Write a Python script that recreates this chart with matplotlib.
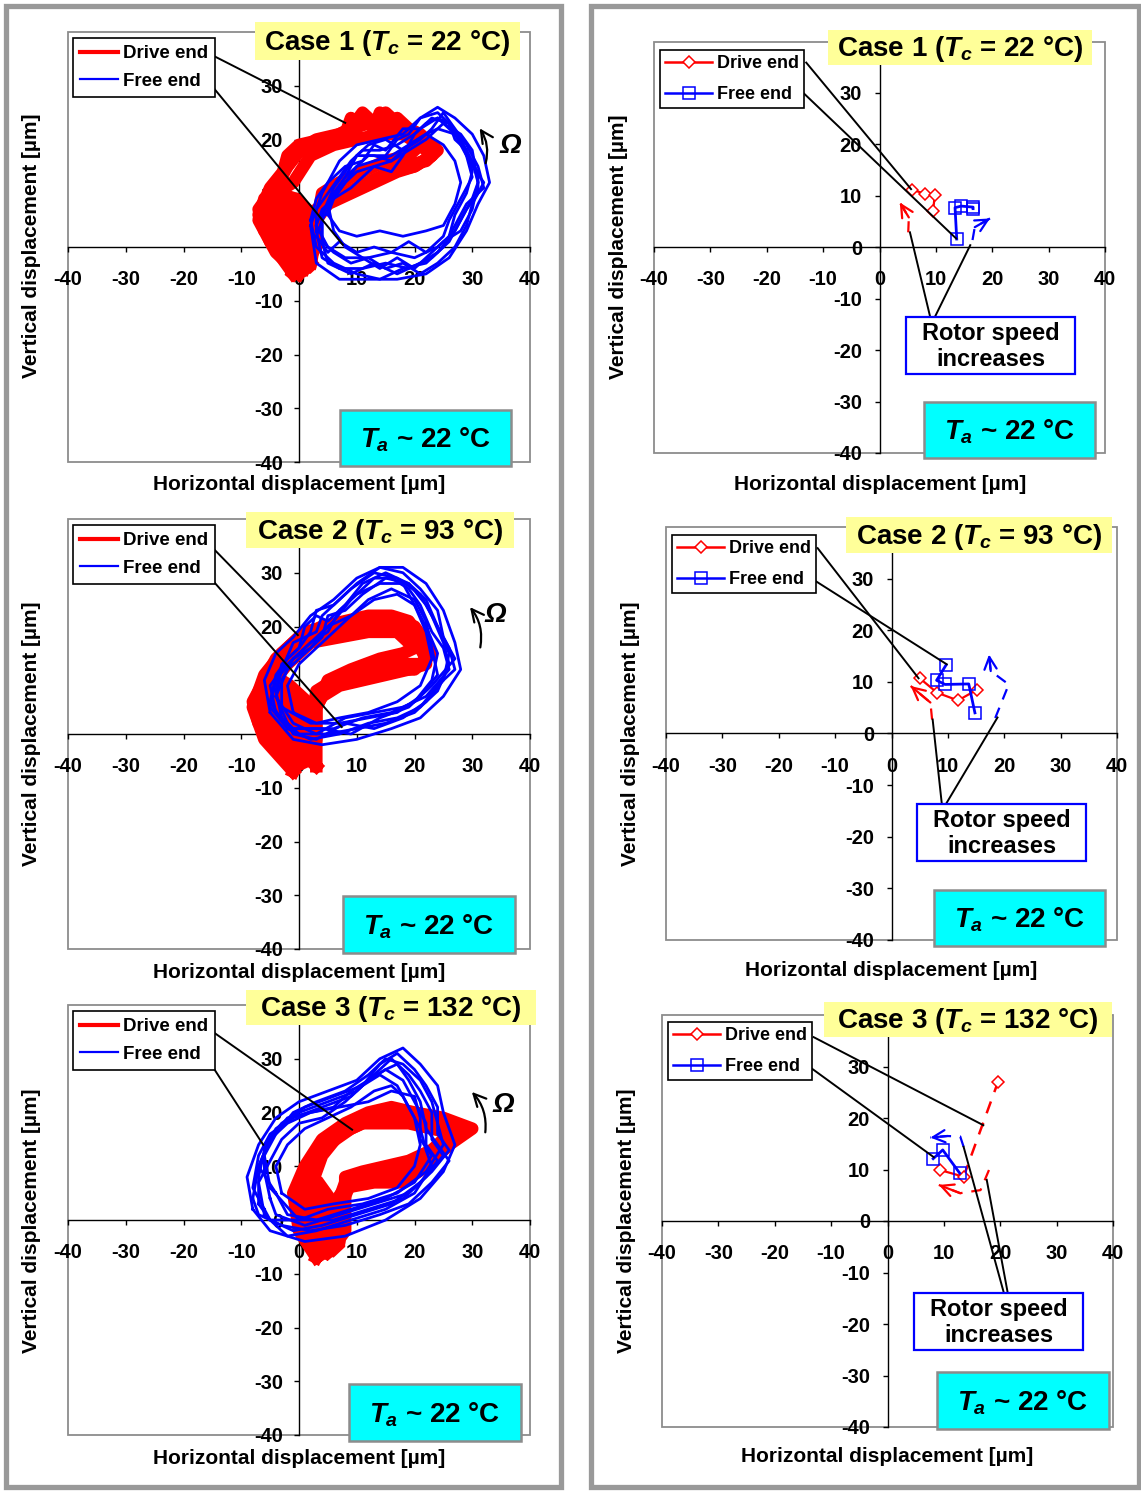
import matplotlib
matplotlib.use('Agg')
import matplotlib.pyplot as plt
from matplotlib.patches import Rectangle, FancyArrowPatch
from matplotlib.lines import Line2D

W, H = 1141, 1491
plt.rcParams['font.family'] = ['Liberation Sans', 'DejaVu Sans']
plt.rcParams['font.weight'] = 'bold'
plt.rcParams['mathtext.fontset'] = 'custom'
plt.rcParams['mathtext.it'] = 'Liberation Sans:italic:bold'
plt.rcParams['mathtext.rm'] = 'Liberation Sans:bold'
plt.rcParams['mathtext.bf'] = 'Liberation Sans:bold'

ticks = [-40, -30, -20, -10, 0, 10, 20, 30, 40]
tick_labels = ['-40', '-30', '-20', '-10', '0', '10', '20', '30', '40']
case_titles = ['Case 1 ($T_c$ = 22 °C)', 'Case 2 ($T_c$ = 93 °C)', 'Case 3 ($T_c$ = 132 °C)']
ta_label = '$T_a$ ~ 22 °C'
legend_labels = ['Drive end', 'Free end']
xlabel = 'Horizontal displacement [µm]'
ylabel = 'Vertical displacement [µm]'

# ---- Left column: orbits (drive end = red, free end = blue) ----
# Case 1
c1_red_blob_x = [-7, -6, -3, 0, 3, 4, 3, 2, 0, -3, -6]
c1_red_blob_y = [4, 9, 11, 10, 7, 2, -4, -5, -5, -1, 1]
c1_red_a_x = [1, -3, -6, -7, -5, -3, -2, 0, 4, 8, 9, 10, 11, 13, 14, 16, 17, 19, 21, 24, 22, 18, 14, 10, 6, 3, 2, 2, 1]
c1_red_a_y = [-4, 0, 3, 7, 10, 13, 17, 19, 20, 21, 24, 22, 24, 22, 25, 22, 24, 22, 21, 18, 16, 15, 13, 11, 9, 7, 3, -2, -4]
c1_red_b_x = [0, -4, -7, -6, -4, -2, 0, 3, 7, 9, 11, 13, 15, 17, 19, 22, 23, 20, 16, 12, 8, 5, 3, 3, 0]
c1_red_b_y = [-5, -1, 5, 9, 11, 15, 18, 20, 21, 22, 25, 23, 25, 23, 21, 19, 17, 15, 14, 12, 10, 9, 5, 0, -5]
c1_red_c_x = [2, -2, -5, -4, -1, 2, 6, 10, 14, 18, 21, 19, 15, 11, 7, 4, 3, 2]
c1_red_c_y = [-3, 1, 6, 10, 12, 17, 19, 20, 21, 21, 19, 17, 16, 14, 12, 10, 4, -3]
c1_red_d_x = [-1, -5, -7, -5, -2, 1, 5, 9, 12, 15, 18, 20, 23, 20, 17, 13, 9, 5, 3, 2, -1]
c1_red_d_y = [-5, 1, 6, 11, 15, 19, 20, 22, 23, 23, 22, 20, 17, 15, 14, 12, 10, 8, 5, -1, -5]
c1_blue_a_x = [3, 4, 7, 11, 15, 19, 23, 26, 28, 30, 31, 30, 28, 26, 24, 22, 20, 17, 14, 11, 9, 7, 5, 3, 3]
c1_blue_a_y = [3, -2, -4, -4, -3, -4, -2, 1, 5, 9, 12, 16, 20, 23, 24, 23, 21, 19, 18, 18, 16, 13, 10, 7, 3]
c1_blue_b_x = [4, 5, 9, 13, 17, 21, 24, 27, 29, 31, 32, 31, 29, 27, 25, 23, 21, 18, 15, 12, 10, 8, 6, 4, 4]
c1_blue_b_y = [1, -3, -5, -3, -5, -3, -1, 3, 7, 10, 11, 15, 19, 22, 25, 22, 20, 18, 20, 19, 17, 14, 11, 6, 1]
c1_blue_c_x = [3, 5, 8, 12, 16, 20, 24, 26, 27, 29, 30, 29, 27, 24, 22, 19, 16, 13, 10, 8, 6, 4, 3]
c1_blue_c_y = [4, 0, -2, -2, -1, -2, 0, 2, 6, 10, 14, 18, 21, 22, 21, 19, 17, 16, 15, 12, 9, 7, 4]
c1_blue_d_x = [2, 3, 6, 10, 14, 18, 22, 25, 27, 29, 31, 31, 29, 27, 24, 21, 18, 15, 13, 11, 8, 5, 3, 2]
c1_blue_d_y = [5, 0, -3, -5, -6, -4, -3, 0, 4, 8, 10, 14, 17, 21, 24, 22, 22, 18, 19, 16, 15, 12, 9, 5]
c1_blue_e_x = [4, 4, 6, 9, 12, 15, 18, 21, 24, 27, 29, 30, 32, 30, 29, 27, 26, 24, 21, 19, 17, 15, 12, 10, 8, 6, 4]
c1_blue_e_y = [6, 1, -1, -3, -2, -4, -3, -5, -3, 0, 4, 8, 12, 15, 18, 20, 23, 25, 24, 21, 20, 17, 17, 15, 13, 10, 6]
c1_blue_f_x = [3, 5, 7, 10, 13, 16, 19, 22, 25, 26, 28, 30, 29, 28, 26, 23, 20, 18, 16, 13, 11, 9, 6, 4, 3]
c1_blue_f_y = [2, -1, 1, -1, 0, -1, 1, -1, 2, 5, 9, 13, 17, 20, 23, 24, 21, 17, 14, 15, 13, 11, 9, 5, 2]
c1_blue_g_x = [5, 6, 8, 11, 14, 17, 20, 23, 25, 28, 30, 31, 30, 28, 25, 22, 19, 16, 13, 10, 8, 5]
c1_blue_g_y = [8, 3, 0, -2, -4, -2, -4, -1, 1, 3, 7, 12, 18, 21, 23, 20, 18, 16, 17, 17, 13, 8]
c1_blue_h_x = [5, 7, 10, 14, 18, 22, 25, 27, 28, 27, 25, 22, 19, 16, 13, 10, 8, 6, 5]
c1_blue_h_y = [6, 3, 2, 3, 2, 3, 4, 8, 12, 16, 19, 21, 19, 16, 15, 14, 12, 9, 6]
c1_blue_i_x = [2, 3, 7, 12, 17, 22, 26, 29, 31, 33, 32, 30, 27, 24, 21, 18, 14, 10, 7, 4, 2]
c1_blue_i_y = [4, -3, -6, -6, -6, -5, -2, 3, 8, 12, 17, 21, 24, 26, 24, 21, 20, 19, 16, 10, 4]

# Case 2
c2_red_blob_x = [-8, -7, -4, -1, 2, 3, 2, 0, -3, -6]
c2_red_blob_y = [5, 9, 12, 10, 7, 1, -6, -7, -3, 1]
c2_red_a_x = [0, -4, -7, -8, -6, -4, -2, 1, 5, 9, 13, 17, 20, 22, 22, 19, 15, 11, 7, 4, 2, 2, 0]
c2_red_a_y = [-5, -2, 2, 6, 10, 14, 16, 19, 20, 20, 21, 21, 20, 17, 13, 12, 11, 10, 9, 7, 3, -2, -5]
c2_red_b_x = [1, -3, -6, -7, -5, -3, 0, 4, 8, 12, 16, 19, 21, 23, 21, 17, 13, 9, 5, 3, 3, 1]
c2_red_b_y = [-4, -3, 1, 7, 12, 15, 18, 20, 21, 22, 22, 21, 18, 15, 13, 13, 12, 11, 9, 5, -1, -4]
c2_red_c_x = [3, -1, -4, -5, -2, 2, 7, 12, 17, 20, 18, 14, 9, 5, 3, 3]
c2_red_c_y = [-6, -2, 3, 9, 13, 17, 18, 19, 19, 16, 15, 14, 12, 10, 5, -6]
c2_red_d_x = [-1, -6, -8, -6, -3, 1, 6, 11, 16, 20, 22, 20, 16, 11, 6, 3, 2, -1]
c2_red_d_y = [-7, -1, 5, 11, 15, 18, 19, 20, 20, 18, 14, 12, 12, 11, 10, 8, 0, -7]
c2_blue_a_x = [-3, -4, -3, 0, 2, 3, 6, 9, 13, 17, 21, 23, 25, 26, 24, 20, 15, 10, 5, 0, -3]
c2_blue_a_y = [3, 8, 13, 16, 19, 23, 24, 27, 30, 29, 26, 22, 17, 13, 8, 4, 2, 1, 0, 0, 3]
c2_blue_b_x = [-2, -4, -2, 1, 4, 5, 8, 11, 15, 19, 22, 24, 26, 25, 22, 18, 13, 8, 3, -1, -2]
c2_blue_b_y = [2, 7, 12, 15, 18, 22, 23, 26, 29, 28, 25, 20, 15, 10, 6, 3, 1, 2, -1, 0, 2]
c2_blue_c_x = [-4, -5, -3, -1, 3, 4, 7, 10, 14, 18, 21, 24, 25, 27, 23, 19, 14, 9, 4, -1, -4]
c2_blue_c_y = [4, 9, 12, 17, 19, 22, 25, 28, 31, 30, 27, 23, 18, 14, 9, 5, 3, 0, 1, 1, 4]
c2_blue_d_x = [-3, -3, -1, 2, 5, 9, 12, 16, 20, 22, 23, 24, 21, 17, 12, 7, 2, -3]
c2_blue_d_y = [5, 10, 14, 16, 20, 22, 25, 27, 25, 21, 16, 11, 7, 4, 3, 2, 2, 5]
c2_blue_e_x = [-5, -4, -2, 0, 1, 3, 5, 8, 11, 15, 19, 22, 24, 26, 27, 24, 21, 17, 12, 7, 2, -2, -5]
c2_blue_e_y = [6, 11, 14, 16, 20, 22, 21, 24, 28, 30, 28, 24, 20, 16, 12, 9, 5, 3, 2, 0, -1, 1, 6]
c2_blue_f_x = [-2, -5, -4, -1, 2, 5, 7, 10, 14, 18, 20, 22, 24, 23, 20, 16, 11, 6, 1, -2]
c2_blue_f_y = [1, 5, 10, 14, 17, 19, 23, 26, 28, 28, 24, 20, 15, 10, 6, 4, 3, 1, 1, 1]
c2_blue_g_x = [-4, -3, 0, 3, 6, 9, 13, 16, 19, 21, 23, 25, 26, 22, 18, 13, 8, 3, -1, -4]
c2_blue_g_y = [7, 12, 15, 18, 21, 25, 29, 29, 27, 24, 19, 16, 12, 7, 5, 4, 3, 0, 2, 7]
c2_blue_h_x = [-1, -2, 0, 3, 6, 9, 13, 17, 20, 22, 23, 21, 17, 12, 7, 3, -1]
c2_blue_h_y = [4, 9, 13, 16, 19, 22, 25, 26, 24, 19, 14, 9, 6, 4, 3, 2, 4]
c2_blue_i_x = [-5, -6, -4, -1, 2, 6, 10, 14, 18, 22, 25, 27, 28, 25, 21, 16, 10, 4, -1, -5]
c2_blue_i_y = [4, 10, 15, 18, 22, 25, 29, 31, 31, 28, 23, 17, 12, 7, 3, 1, -1, -2, -1, 4]

# Case 3
c3_red_blob_x = [0, 1, 3, 6, 8, 8, 6, 4, 2, 0]
c3_red_blob_y = [8, 3, -6, -7, -5, 0, 5, 8, 9, 8]
c3_red_a_x = [3, 0, -1, 1, 4, 8, 12, 16, 20, 25, 30, 26, 22, 18, 13, 8, 6, 5, 3]
c3_red_a_y = [-7, -2, 5, 10, 15, 18, 20, 21, 20, 19, 17, 14, 10, 7, 7, 6, 3, -3, -7]
c3_red_b_x = [5, 1, 0, 2, 5, 9, 13, 17, 21, 26, 28, 24, 20, 16, 12, 9, 7, 7, 5]
c3_red_b_y = [-6, -1, 4, 11, 14, 17, 19, 20, 19, 18, 16, 12, 9, 8, 8, 7, 2, -4, -6]
c3_red_c_x = [6, 2, 2, 4, 7, 11, 15, 19, 23, 27, 23, 19, 15, 11, 8, 8, 6]
c3_red_c_y = [-5, 0, 6, 12, 16, 18, 18, 18, 17, 16, 13, 11, 10, 9, 8, -2, -5]
c3_red_d_x = [4, 0, 1, 3, 7, 11, 15, 19, 24, 29, 25, 21, 17, 12, 8, 6, 4]
c3_red_d_y = [-6, 0, 8, 13, 17, 19, 20, 19, 18, 17, 15, 11, 8, 8, 7, 1, -6]
c3_blue_a_x = [-7, -7, -6, -4, 0, 5, 10, 13, 16, 19, 21, 23, 23, 25, 22, 18, 12, 6, 0, -5, -7]
c3_blue_a_y = [3, 8, 13, 17, 20, 22, 24, 27, 30, 27, 24, 20, 15, 12, 8, 4, 2, 0, 0, 0, 3]
c3_blue_b_x = [-6, -8, -7, -5, -1, 4, 9, 12, 15, 18, 20, 22, 22, 24, 21, 16, 10, 4, -1, -5, -6]
c3_blue_b_y = [2, 6, 12, 16, 19, 21, 23, 26, 28, 26, 22, 18, 14, 11, 7, 3, 1, -1, -2, 0, 2]
c3_blue_c_x = [-5, -6, -6, -3, 1, 6, 11, 14, 17, 20, 22, 24, 24, 26, 23, 19, 13, 7, 1, -4, -5]
c3_blue_c_y = [4, 9, 14, 18, 21, 23, 25, 29, 31, 28, 25, 21, 16, 13, 9, 5, 3, 1, -1, 1, 4]
c3_blue_d_x = [-4, -7, -5, -2, 2, 7, 12, 16, 20, 21, 21, 23, 20, 15, 9, 3, -2, -4]
c3_blue_d_y = [5, 10, 15, 19, 20, 21, 22, 24, 23, 19, 15, 12, 7, 4, 2, 0, 1, 5]
c3_blue_e_x = [-8, -7, -5, -2, 2, 6, 9, 12, 15, 17, 19, 21, 22, 24, 26, 23, 19, 14, 8, 2, -3, -7, -8]
c3_blue_e_y = [4, 10, 15, 18, 20, 21, 24, 26, 28, 29, 26, 22, 17, 14, 11, 7, 3, 1, -1, -2, -1, 1, 4]
c3_blue_f_x = [-6, -7, -5, -3, 0, 4, 8, 11, 14, 17, 19, 21, 22, 23, 20, 15, 9, 3, -2, -6]
c3_blue_f_y = [1, 7, 11, 15, 18, 19, 22, 25, 27, 25, 21, 17, 13, 10, 5, 2, 0, -2, -3, 1]
c3_blue_g_x = [-5, -6, -4, -1, 3, 8, 12, 15, 18, 21, 23, 24, 25, 22, 17, 11, 5, 0, -5]
c3_blue_g_y = [6, 12, 16, 20, 22, 24, 27, 30, 29, 26, 22, 18, 14, 9, 5, 3, 2, 0, 6]
c3_blue_h_x = [-3, -4, -2, 1, 5, 9, 13, 16, 18, 20, 21, 20, 17, 12, 6, 1, -3]
c3_blue_h_y = [5, 10, 14, 17, 19, 21, 24, 25, 23, 19, 14, 10, 6, 4, 3, 2, 5]
c3_blue_i_x = [-8, -9, -7, -4, 0, 5, 10, 14, 18, 21, 24, 25, 27, 25, 21, 15, 8, 1, -5, -8]
c3_blue_i_y = [2, 8, 14, 19, 22, 24, 26, 30, 32, 29, 25, 20, 14, 9, 4, 0, -3, -4, -2, 2]

# ---- Right column: averaged orbit centres vs rotor speed ----
r1_drive_x = [5.7, 8.1, 9.8, 9.5]
r1_drive_y = [11.2, 10.4, 10.1, 7.0]
r1_free_x = [13.7, 13.4, 14.5, 16.6, 16.6]
r1_free_y = [1.6, 7.7, 8.0, 7.8, 7.5]
r2_drive_x = [5.0, 8.1, 11.8, 15.2]
r2_drive_y = [10.7, 7.9, 6.4, 8.5]
r2_free_x = [9.7, 8.0, 9.5, 13.7, 14.8]
r2_free_y = [13.3, 10.3, 9.5, 9.6, 4.0]
r3_drive_x = [9.3, 13.5, 19.6]
r3_drive_y = [9.9, 8.6, 27.0]
r3_free_x = [8.1, 9.8, 12.8]
r3_free_y = [12.1, 13.8, 9.3]

# trend (dashed) arrows
r1_red_arrow = [(5.1, 2.9), (5.2, 5.8), (3.6, 8.7)]
r1_blue_arrow = [(16.5, 1.4), (16.9, 3.9), (19.6, 5.6)]
r2_red_arrow = [(7.2, 2.7), (6.9, 6.0), (3.4, 9.2)]
r2_blue_arrow = [(18.4, 3.0), (20.8, 9.5), (17.6, 12.1), (17.3, 15.3)]
r3_red_arrow = [(18.0, 9.9), (16.5, 6.0), (12.9, 5.4), (9.1, 7.0)]
r3_blue_arrow = [(13.5, 14.4), (12.9, 16.4), (10.6, 16.5), (7.6, 16.2)]

RED = '#ff0000'
BLUE = '#0000ff'

fig = plt.figure(figsize=(W / 100, H / 100), dpi=100)


def px_rect(x0, y0, x1, y1, **kw):
    r = Rectangle((x0 / W, 1 - y1 / H), (x1 - x0) / W, (y1 - y0) / H,
                  transform=fig.transFigure, **kw)
    fig.add_artist(r)
    return r


def px_text(cx, cy, s, **kw):
    return fig.text(cx / W, 1 - cy / H, s, ha='center', va='center', **kw)


def make_axes(l, t, r, b):
    ax = fig.add_axes([l / W, 1 - b / H, (r - l) / W, (b - t) / H])
    ax.set_xlim(-40, 40)
    ax.set_ylim(-40, 40)
    for s in ['top', 'right']:
        ax.spines[s].set_visible(False)
    ax.spines['left'].set_position(('data', 0))
    ax.spines['bottom'].set_position(('data', 0))
    ax.spines['left'].set_linewidth(1.0)
    ax.spines['bottom'].set_linewidth(1.0)
    ax.set_xticks(ticks)
    ax.set_yticks(ticks)
    ax.set_xticklabels(tick_labels)
    ax.set_yticklabels(tick_labels)
    ax.tick_params(axis='x', direction='out', length=3.6, width=1, pad=13, labelsize=14.5)
    ax.tick_params(axis='y', direction='out', length=3.6, width=1, pad=8, labelsize=14.5)
    ax.add_patch(Rectangle((0, 0), 1, 1, transform=ax.transAxes, fill=False,
                           edgecolor='#8c8c8c', lw=1.3, zorder=0.5, clip_on=False))
    return ax


def leader(ax, p0, p1):
    ax.plot([p0[0], p1[0]], [p0[1], p1[1]], color='black', lw=1.4,
            clip_on=False, zorder=6)


def dashed_arrow(ax, pts, color):
    xs = [p[0] for p in pts]
    ys = [p[1] for p in pts]
    ax.plot(xs, ys, color=color, lw=1.6, ls=(0, (5, 4)), zorder=4)
    ax.annotate('', xy=pts[-1], xytext=pts[-2],
                arrowprops=dict(arrowstyle='->', color=color, lw=1.6,
                                mutation_scale=22, shrinkA=0, shrinkB=0), zorder=4)


# panel borders
px_rect(5.5, 5.5, 560.5, 1486.5, fill=False, edgecolor='#999999', lw=3.8, zorder=0)
px_rect(591, 5.5, 1138.5, 1486.5, fill=False, edgecolor='#999999', lw=3.8, zorder=0)

left_geom = [(68, 32, 530, 462), (68, 519, 530, 949), (68, 1005, 530, 1435)]
right_geom = [(654, 41.5, 1105, 453), (666, 527, 1117, 940), (662, 1015, 1113, 1427)]

red_blobs = [(c1_red_blob_x, c1_red_blob_y), (c2_red_blob_x, c2_red_blob_y),
             (c3_red_blob_x, c3_red_blob_y)]
red_loops = [
    [(c1_red_a_x, c1_red_a_y), (c1_red_b_x, c1_red_b_y), (c1_red_c_x, c1_red_c_y), (c1_red_d_x, c1_red_d_y)],
    [(c2_red_a_x, c2_red_a_y), (c2_red_b_x, c2_red_b_y), (c2_red_c_x, c2_red_c_y), (c2_red_d_x, c2_red_d_y)],
    [(c3_red_a_x, c3_red_a_y), (c3_red_b_x, c3_red_b_y), (c3_red_c_x, c3_red_c_y), (c3_red_d_x, c3_red_d_y)],
]
blue_loops = [
    [(c1_blue_a_x, c1_blue_a_y), (c1_blue_b_x, c1_blue_b_y), (c1_blue_c_x, c1_blue_c_y), (c1_blue_d_x, c1_blue_d_y),
     (c1_blue_e_x, c1_blue_e_y), (c1_blue_f_x, c1_blue_f_y), (c1_blue_g_x, c1_blue_g_y),
     (c1_blue_h_x, c1_blue_h_y), (c1_blue_i_x, c1_blue_i_y)],
    [(c2_blue_a_x, c2_blue_a_y), (c2_blue_b_x, c2_blue_b_y), (c2_blue_c_x, c2_blue_c_y), (c2_blue_d_x, c2_blue_d_y),
     (c2_blue_e_x, c2_blue_e_y), (c2_blue_f_x, c2_blue_f_y), (c2_blue_g_x, c2_blue_g_y),
     (c2_blue_h_x, c2_blue_h_y), (c2_blue_i_x, c2_blue_i_y)],
    [(c3_blue_a_x, c3_blue_a_y), (c3_blue_b_x, c3_blue_b_y), (c3_blue_c_x, c3_blue_c_y), (c3_blue_d_x, c3_blue_d_y),
     (c3_blue_e_x, c3_blue_e_y), (c3_blue_f_x, c3_blue_f_y), (c3_blue_g_x, c3_blue_g_y),
     (c3_blue_h_x, c3_blue_h_y), (c3_blue_i_x, c3_blue_i_y)],
]
left_leaders = [
    [((-14.5, 35.4), (8.0, 23.1)), ((-15.1, 30.0), (7.6, 0.4))],
    [((-15.1, 34.8), (-0.2, 18.4)), ((-15.8, 29.6), (7.4, 1.3))],
    [((-14.9, 35.0), (9.2, 16.8)), ((-15.6, 29.6), (-6.2, 14.0))],
]
omega_arrows = [((32.2, 15.1), (31.0, 22.5), (36.5, 18.8)),
                ((31.3, 15.6), (29.3, 24.0), (34.0, 22.2)),
                ((32.2, 15.8), (29.6, 24.2), (35.3, 21.4))]

for i, (l, t, r, b) in enumerate(left_geom):
    ax = make_axes(l, t, r, b)
    bx, by = red_blobs[i]
    ax.fill(bx, by, color=RED, lw=0, zorder=3)
    for xs, ys in red_loops[i]:
        ax.plot(xs, ys, color=RED, lw=9, solid_joinstyle='round', zorder=3)
    for xs, ys in blue_loops[i]:
        ax.plot(xs, ys, color=BLUE, lw=2.0, solid_joinstyle='round', zorder=3.5)
    for p0, p1 in left_leaders[i]:
        leader(ax, p0, p1)
    a0, a1, om = omega_arrows[i]
    ax.add_patch(FancyArrowPatch(a0, a1, connectionstyle='arc3,rad=0.25',
                                 arrowstyle='->', mutation_scale=22, lw=1.6,
                                 color='black', zorder=5))
    ax.text(om[0], om[1], 'Ω', fontsize=20, fontweight='bold', style='italic',
            ha='center', va='center', zorder=5)
    handles = [Line2D([], [], color=RED, lw=3), Line2D([], [], color=BLUE, lw=1.6)]
    leg = ax.legend(handles, legend_labels, loc='upper left',
                    bbox_to_anchor=(0.0108, 0.986), borderaxespad=0,
                    fancybox=False, framealpha=1, edgecolor='black',
                    prop=dict(weight='bold', size=13.5), handlelength=2.0,
                    handletextpad=0.3, labelspacing=0.55, borderpad=0.38)
    leg.get_frame().set_linewidth(1.2)
    leg.set_zorder(7)

right_series = [
    (r1_drive_x, r1_drive_y, r1_free_x, r1_free_y),
    (r2_drive_x, r2_drive_y, r2_free_x, r2_free_y),
    (r3_drive_x, r3_drive_y, r3_free_x, r3_free_y),
]
right_arrows = [(r1_red_arrow, r1_blue_arrow), (r2_red_arrow, r2_blue_arrow),
                (r3_red_arrow, r3_blue_arrow)]
right_leaders = [
    [((-13.0, 35.9), (5.6, 11.3)), ((-13.6, 30.1), (13.6, 1.7)),
     ((9.0, -13.6), (5.4, 2.9)), ((9.8, -13.6), (16.1, 0.4))],
    [((-13.1, 35.9), (4.8, 10.7)), ((-14.0, 29.9), (9.8, 13.4)),
     ((8.9, -13.4), (7.3, 2.7)), ((9.8, -13.4), (18.8, 3.1))],
    [((-13.1, 35.7), (17.0, 18.6)), ((-13.8, 29.9), (8.2, 12.4)),
     ((20.6, -13.8), (13.5, 14.4)), ((21.3, -13.8), (17.6, 8.0))],
]
right_leg_anchor = [(0.0133, 0.979), (0.0133, 0.981), (0.0133, 0.983)]

for i, (l, t, r, b) in enumerate(right_geom):
    ax = make_axes(l, t, r, b)
    ax.tick_params(axis='y', pad=9)
    dx, dy, fx, fy = right_series[i]
    if i == 2:
        ax.plot(dx[:2], dy[:2], color=RED, lw=1.6, zorder=3)
        ax.plot(dx[1:], dy[1:], color=RED, lw=1.8, ls=(0, (5, 4)), zorder=3)
        ax.plot(dx, dy, ls='none', marker='D', ms=6.5, mfc='white', mec=RED, mew=1.1, zorder=3)
    else:
        ax.plot(dx, dy, color=RED, lw=1.6, marker='D', ms=6.5, mfc='white',
                mec=RED, mew=1.1, zorder=3)
    ax.plot(fx, fy, color=BLUE, lw=2.0, zorder=3.2)
    ax.plot(fx, fy, ls='none', marker='s', ms=8.5, mfc='none', mec=BLUE, mew=1.1, zorder=3.2)
    red_arr, blue_arr = right_arrows[i]
    dashed_arrow(ax, red_arr, RED)
    dashed_arrow(ax, blue_arr, BLUE)
    for p0, p1 in right_leaders[i]:
        leader(ax, p0, p1)
    handles = [Line2D([], [], color=RED, lw=1.8, marker='D', ms=6.5, mfc='white', mec=RED, mew=1.1),
               Line2D([], [], color=BLUE, lw=1.8, marker='s', ms=8.5, mfc='none', mec=BLUE, mew=1.1)]
    leg = ax.legend(handles, legend_labels, loc='upper left',
                    bbox_to_anchor=right_leg_anchor[i], borderaxespad=0,
                    fancybox=False, framealpha=1, edgecolor='black',
                    prop=dict(weight='bold', size=13), handlelength=2.6,
                    handletextpad=0.3, labelspacing=0.78, borderpad=0.28)
    leg.get_frame().set_linewidth(1.2)
    leg.set_zorder(7)

# axis labels
left_xlab = [(299, 484), (299, 972), (299, 1458)]
left_ylab = [(32, 246), (32, 734), (32, 1221)]
right_xlab = [(880, 484), (891, 971), (887, 1457)]
right_ylab = [(618, 247), (630, 734), (626, 1221)]
for (cx, cy) in left_xlab + right_xlab:
    px_text(cx, cy, xlabel, fontsize=15, fontweight='bold')
for (cx, cy) in left_ylab + right_ylab:
    px_text(cx, cy, ylabel, fontsize=15, fontweight='bold', rotation=90)

# case title boxes (yellow)
case_boxes = [(0, (255, 22, 520, 60)), (0, (828, 30, 1092, 65)),
              (1, (246, 512, 514, 548)), (1, (846, 517, 1112, 553)),
              (2, (246, 990, 536, 1025)), (2, (824, 1002, 1112, 1037))]
for k, (x0, y0, x1, y1) in case_boxes:
    px_rect(x0, y0, x1, y1, facecolor='#ffff99', edgecolor='none', zorder=8)
    px_text((x0 + x1) / 2, (y0 + y1) / 2 + 2, case_titles[k], fontsize=20,
            fontweight='bold', zorder=9)

# ambient temperature boxes (cyan)
ta_boxes = [(340, 410, 511, 466), (924, 402, 1095, 458), (343, 896, 515, 953),
            (934, 890, 1105, 946), (349, 1384, 521, 1441), (937, 1372, 1109, 1429)]
for (x0, y0, x1, y1) in ta_boxes:
    px_rect(x0, y0, x1, y1, facecolor='#00ffff', edgecolor='#8c8c8c', lw=1.8, zorder=8)
    px_text((x0 + x1) / 2, (y0 + y1) / 2 + 2, ta_label, fontsize=20, fontweight='bold', zorder=9)

# rotor speed boxes
rotor_boxes = [(906, 317, 1075, 374), (917, 804, 1086, 861), (914, 1293, 1083, 1350)]
for (x0, y0, x1, y1) in rotor_boxes:
    px_rect(x0, y0, x1, y1, facecolor='white', edgecolor=BLUE, lw=1.6, zorder=8)
    px_text((x0 + x1) / 2, (y0 + y1) / 2 + 1, 'Rotor speed\nincreases', fontsize=17,
            fontweight='bold', linespacing=1.2, zorder=9)

fig.savefig('out.png', dpi=100, facecolor='white')
